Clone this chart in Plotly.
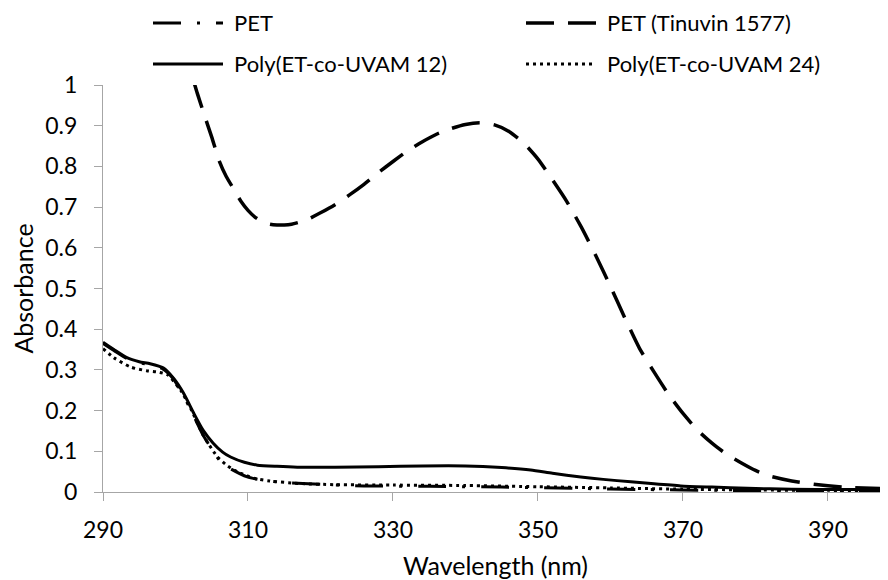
import plotly.graph_objects as go

# ---------------- data ----------------
pet_x = [290, 291.5, 293.3, 295, 296.5, 298.3, 299.7, 301, 302.3, 303.8, 305.2, 306.2,
         307.5, 309.9, 312, 315, 320, 326, 335, 345, 355, 365, 375, 385, 398.3]
pet_y = [0.365, 0.348, 0.328, 0.318, 0.312, 0.302, 0.278, 0.24, 0.195, 0.14, 0.1, 0.075,
         0.058, 0.037, 0.029, 0.023, 0.019, 0.015, 0.014, 0.012, 0.009, 0.006, 0.004, 0.003, 0.003]

tin_x = [302.5, 303, 304, 305, 306, 307, 308, 309, 310, 311, 312, 313, 314, 315, 316, 318,
         320, 322, 324, 326, 328, 330, 332, 334, 336, 338, 340, 342, 344, 346, 348, 350,
         352, 354, 356, 358, 360, 362, 364, 366, 368, 370, 372, 374, 376, 378, 380, 382,
         385, 388, 392, 398.3]
tin_y = [1.01, 0.98, 0.925, 0.872, 0.815, 0.775, 0.745, 0.715, 0.692, 0.675, 0.664, 0.658,
         0.656, 0.656, 0.658, 0.668, 0.686, 0.706, 0.73, 0.756, 0.785, 0.812, 0.838, 0.86,
         0.879, 0.893, 0.903, 0.907, 0.902, 0.886, 0.858, 0.818, 0.767, 0.713, 0.65, 0.58,
         0.505, 0.427, 0.353, 0.295, 0.24, 0.193, 0.152, 0.12, 0.093, 0.072, 0.053, 0.039,
         0.027, 0.019, 0.012, 0.008]

p12_x = [290, 291.5, 293.3, 295, 296.5, 298.3, 299.7, 301.1, 302.5, 303.8, 305.2, 306.5,
         307.6, 309.5, 311.3, 314, 316.8, 322, 328, 334, 340, 345, 349, 352, 355.9, 359,
         362.8, 366, 369.7, 374, 378.9, 385, 392, 398.3]
p12_y = [0.368, 0.35, 0.33, 0.32, 0.315, 0.305, 0.28, 0.243, 0.194, 0.152, 0.12, 0.098,
         0.086, 0.073, 0.066, 0.063, 0.061, 0.061, 0.062, 0.064, 0.064, 0.06, 0.054, 0.046,
         0.037, 0.031, 0.025, 0.02, 0.015, 0.012, 0.009, 0.007, 0.006, 0.006]

p24_x = [290, 291.5, 293.8, 296, 297.5, 298.9, 300.7, 302, 303.8, 305.8, 307.2, 308.6,
         310.8, 313, 317, 322, 330, 340, 350, 360, 370, 380, 390, 398.3]
p24_y = [0.352, 0.33, 0.307, 0.298, 0.295, 0.288, 0.25, 0.209, 0.14, 0.086, 0.064, 0.049,
         0.034, 0.027, 0.021, 0.018, 0.017, 0.016, 0.013, 0.01, 0.007, 0.005, 0.004, 0.004]

series_names = ["PET", "PET (Tinuvin 1577)", "Poly(ET-co-UVAM 12)", "Poly(ET-co-UVAM 24)"]
x_ticks = [290, 310, 330, 350, 370, 390]
y_ticks = [0, 0.1, 0.2, 0.3, 0.4, 0.5, 0.6, 0.7, 0.8, 0.9, 1]
y_tick_labels = ["0", "0.1", "0.2", "0.3", "0.4", "0.5", "0.6", "0.7", "0.8", "0.9", "1"]

# ---------------- styling ----------------
FONT = "Lato, 'Open Sans', sans-serif"
AXIS_GREY = "#a6a6a6"
PAGE_OFFSET = 8                      # default page margin of the browser body
W, H = 888 - PAGE_OFFSET, 580 - PAGE_OFFSET
M_L, M_R, M_T, M_B = 103 - PAGE_OFFSET, 0, 85 - PAGE_OFFSET, 88
X_MIN, X_MAX = 290, 398.28
dashes = ["28px,16px,3px,16px", "28px,14px", "solid", "3px,4px"]
widths = [3, 3.5, 3, 3]

fig = go.Figure()
data = [(pet_x, pet_y), (tin_x, tin_y), (p12_x, p12_y), (p24_x, p24_y)]
for (xs, ys), name, d, w in zip(data, series_names, dashes, widths):
    fig.add_trace(go.Scatter(
        x=xs, y=ys, name=name, mode="lines",
        line=dict(color="black", width=w, dash=d, shape="spline", smoothing=0.6),
        showlegend=False, cliponaxis=True,
    ))

# ---------------- custom legend (long line samples like the original) ----------------
plot_w = W - M_L - M_R
plot_h = H - M_T - M_B
def px_to_paper_x(px):
    return (px - PAGE_OFFSET - M_L) / plot_w
def px_to_paper_y(py):
    return (H - M_B - (py - PAGE_OFFSET)) / plot_h

leg_cols = [153, 526]
leg_rows = [23, 64]
sample_len = 70
text_gap = 9
shapes = []
annotations = []
for i, (name, d, w) in enumerate(zip(series_names, dashes, widths)):
    cx = leg_cols[i % 2]
    cy = leg_rows[i // 2]
    shapes.append(dict(
        type="line", xref="paper", yref="paper",
        x0=px_to_paper_x(cx), x1=px_to_paper_x(cx + sample_len),
        y0=px_to_paper_y(cy), y1=px_to_paper_y(cy),
        line=dict(color="black", width=w, dash=d),
    ))
    annotations.append(dict(
        xref="paper", yref="paper",
        x=px_to_paper_x(cx + sample_len + text_gap), y=px_to_paper_y(cy),
        xanchor="left", yanchor="middle", showarrow=False,
        text=name, font=dict(family=FONT, size=22, color="black"),
    ))

fig.update_layout(
    width=W, height=H, autosize=False,
    margin=dict(l=M_L, r=M_R, t=M_T, b=M_B, pad=0),
    paper_bgcolor="white", plot_bgcolor="white",
    font=dict(family=FONT, size=23, color="black"),
    shapes=shapes, annotations=annotations,
    showlegend=False,
)
fig.update_xaxes(
    range=[X_MIN, X_MAX], tickvals=x_ticks,
    showgrid=False, zeroline=False, showline=True, linecolor=AXIS_GREY, linewidth=1,
    ticks="outside", ticklen=8, tickcolor=AXIS_GREY, tickwidth=1,
    tickfont=dict(size=23), ticklabelstandoff=9,
    title=dict(text="Wavelength (nm)", font=dict(size=25), standoff=17),
)
fig.update_yaxes(
    range=[0, 1], tickvals=y_ticks, ticktext=y_tick_labels,
    showgrid=False, zeroline=False, showline=True, linecolor=AXIS_GREY, linewidth=1,
    ticks="outside", ticklen=8, tickcolor=AXIS_GREY, tickwidth=1,
    tickfont=dict(size=23), ticklabelstandoff=12,
    title=dict(text="Absorbance", font=dict(size=25), standoff=10),
)

fig.write_html("out.html")
